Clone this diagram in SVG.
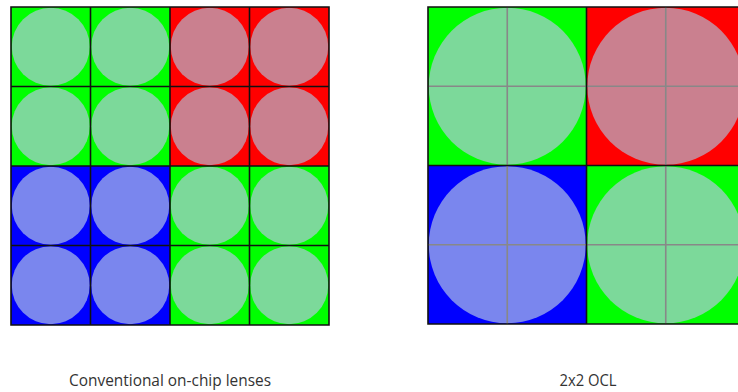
<svg xmlns="http://www.w3.org/2000/svg" width="738" height="392" viewBox="0 0 738 392">
<style>
.g{fill:#00FF00}.r{fill:#FF0000}.b{fill:#0000FF}
.cg{fill:#7CD99A}.cr{fill:#CA808F}.cb{fill:#7A86EE}
.bl{stroke:#111;stroke-width:1.6;fill:none}
.gl{stroke:#888;stroke-width:1.6;fill:none}
.t{font-family:"Open Sans","Liberation Sans",sans-serif;font-size:16px;fill:#333}
</style>
<rect width="738" height="392" fill="#fff"/>
<g id="conventional">
<rect class="g" x="11" y="7" width="159" height="159"/>
<rect class="r" x="170" y="7" width="159" height="159"/>
<rect class="b" x="11" y="166" width="159" height="159"/>
<rect class="g" x="170" y="166" width="159" height="159"/>
<g class="cg">
<circle cx="50.75" cy="46.75" r="39"/><circle cx="130.25" cy="46.75" r="39"/>
<circle cx="50.75" cy="126.25" r="39"/><circle cx="130.25" cy="126.25" r="39"/>
<circle cx="209.75" cy="205.75" r="39"/><circle cx="289.25" cy="205.75" r="39"/>
<circle cx="209.75" cy="285.25" r="39"/><circle cx="289.25" cy="285.25" r="39"/>
</g>
<g class="cr">
<circle cx="209.75" cy="46.75" r="39"/><circle cx="289.25" cy="46.75" r="39"/>
<circle cx="209.75" cy="126.25" r="39"/><circle cx="289.25" cy="126.25" r="39"/>
</g>
<g class="cb">
<circle cx="50.75" cy="205.75" r="39"/><circle cx="130.25" cy="205.75" r="39"/>
<circle cx="50.75" cy="285.25" r="39"/><circle cx="130.25" cy="285.25" r="39"/>
</g>
<path class="bl" d="M11 7H329V325H11Z M90.5 7V325 M170 7V325 M249.5 7V325 M11 86.5H329 M11 166H329 M11 245.5H329"/>
<text class="t" x="170" y="386" text-anchor="middle" textLength="202" lengthAdjust="spacingAndGlyphs">Conventional on-chip lenses</text>
</g>
<g id="ocl">
<rect class="g" x="428" y="7" width="158.5" height="158.5"/>
<rect class="r" x="586.5" y="7" width="158.5" height="158.5"/>
<rect class="b" x="428" y="165.5" width="158.5" height="158.5"/>
<rect class="g" x="586.5" y="165.5" width="158.5" height="158.5"/>
<circle class="cg" cx="507.25" cy="86.25" r="78.5"/>
<circle class="cr" cx="665.75" cy="86.25" r="78.5"/>
<circle class="cb" cx="507.25" cy="244.75" r="78.5"/>
<circle class="cg" cx="665.75" cy="244.75" r="78.5"/>
<path class="gl" d="M507.25 7V324 M665.75 7V324 M428 86.25H745 M428 244.75H745"/>
<path class="bl" d="M745 7H428V324H745 M586.5 7V324 M428 165.5H745"/>
<text class="t" x="588" y="386" text-anchor="middle" textLength="57" lengthAdjust="spacingAndGlyphs">2x2 OCL</text>
</g>
</svg>
